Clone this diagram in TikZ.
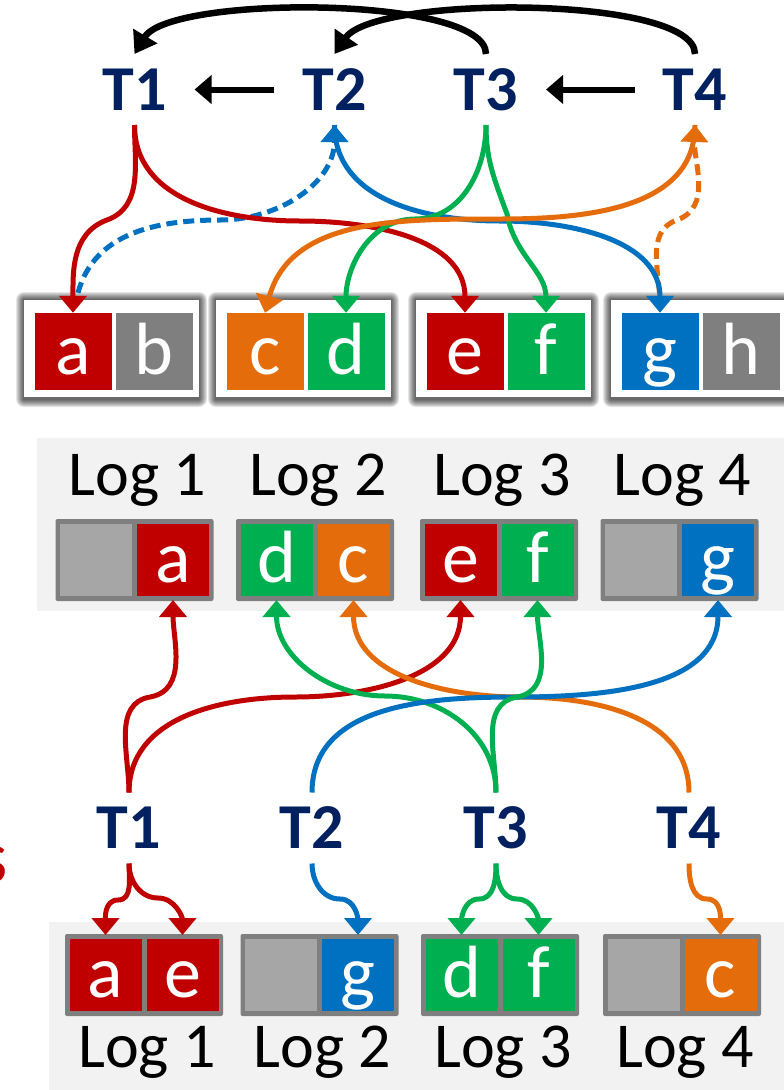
\documentclass[tikz,border=0pt]{standalone}
\usepackage{fontspec}
\setmainfont{Carlito}
\usetikzlibrary{arrows.meta}
\definecolor{navy}{HTML}{002060}
\definecolor{cred}{HTML}{C00000}
\definecolor{cgreen}{HTML}{00B050}
\definecolor{corange}{HTML}{E46C0A}
\definecolor{cblue}{HTML}{0070C0}
\definecolor{cgray}{HTML}{7F7F7F}
\definecolor{cempty}{HTML}{A6A6A6}
\definecolor{panel}{HTML}{F2F2F2}

\tikzset{
  txn/.style={text=navy,font=\fontsize{64}{64}\selectfont\bfseries,inner sep=0pt,
    text height=41pt,text depth=0pt,outer xsep=28pt,outer ysep=15pt},
  cell/.style={minimum size=77pt,inner sep=0pt,text=white,
    font=\fontsize{74}{74}\selectfont,text height=50pt,text depth=5pt},
  lcell/.style={cell,minimum size=72pt,outer ysep=4pt},
  loglab/.style={font=\fontsize{64}{64}\selectfont,anchor=base,inner sep=0pt},
  link/.style={line width=5pt,-{Triangle[length=17pt,width=27pt]}},
  dep/.style={line width=6.5pt,-{Triangle[length=21pt,width=27pt]}},
  wdash/.style={dash pattern=on 11pt off 6pt},
}

\begin{document}
\begin{tikzpicture}[x=1pt,y=1pt]
\useasboundingbox (0,-1090) rectangle (784,0);
\fill[white] (0,-1090) rectangle (784,0);

% transactions, top
\node[txn] (tt1) at (134.5,-89.5) {T1};
\node[txn] (tt2) at (334.5,-89.5) {T2};
\node[txn] (tt3) at (486,-89.5) {T3};
\node[txn] (tt4) at (695,-89.5) {T4};

\draw[dep,line width=6pt,-{Triangle[length=17pt,width=28pt]}] (tt2.west) -- (tt1.east);
\draw[dep,line width=6pt,-{Triangle[length=17pt,width=28pt]}] (tt4.west) -- (tt3.east);
\draw[dep] (tt3.north) .. controls (486,5) and (170,5) .. (tt1.north);
\draw[dep] (tt4.north) .. controls (695,5) and (375,5) .. (tt2.north);

% records with shadow
\foreach \L in {24,216,416,611}{
  \foreach \e in {1,...,8}
    \fill[black,opacity=0.1,rounded corners=\e pt] (\L-\e,-300+\e) rectangle (\L+175+\e,-399-\e);
  \fill[white] (\L,-300) rectangle (\L+175,-397);
}
\foreach \L/\cl/\tl/\cr/\tr in {24/cred/a/cgray/b, 216/corange/c/cgreen/d,
                                416/cred/e/cgreen/f, 611/cblue/g/cgray/h}{
  \node[cell,fill=\cl] (\tl) at (\L+49,-351.5) {\tl};
  \node[cell,fill=\cr] (\tr) at (\L+130,-351.5) {\tr};
}

\draw[link,cblue,wdash] ([xshift=5pt,yshift=20pt]a.north) to[out=75,in=180] (220,-220)
  to[out=0,in=-90] (tt2.south);
\draw[link,corange,wdash] ([yshift=3pt]g.north) to[out=88,in=200] (677,-220)
  to[out=20,in=-92] (tt4.south);
\draw[link,cred] (tt1.south) to[out=-90,in=20] (107,-220) to[out=200,in=90] (a.north);
\draw[link,cred] (tt1.south) to[out=-90,in=180] (300,-221) to[out=0,in=90] (e.north);
\draw[link,cblue] (tt2.south) to[out=-90,in=180] (500,-221) to[out=0,in=90] (g.north);
\draw[link,cgreen] (tt3.south) to[out=-90,in=0] (415,-219) to[out=180,in=90] (d.north);
\draw[link,cgreen] (tt3.south) to[out=-90,in=110] (507,-214) to[out=-80,in=90] (f.north);
\draw[link,corange] (tt4.south) to[out=-90,in=0] (500,-219) to[out=180,in=75] (c.north);

% logs, upper row
\fill[panel] (37,-438) rectangle (784,-611);
\foreach \x/\cl/\tl/\cr/\tr/\n in {134.5/cempty//cred/a/1, 315/cgreen/d/corange/c/2,
                                   499/cred/e/cgreen/f/3, 679.5/cempty//cblue/g/4}{
  \fill[cgray,rounded corners=2pt] (\x-79,-519) rectangle (\x+79,-601);
  \node[lcell,fill=\cl] (m\n-l) at (\x-38.5,-560) {\tl};
  \node[lcell,fill=\cr] (m\n-r) at (\x+38.5,-560) {\tr};
  \node[loglab] (mlog\n) at (\x+3,-495) {Log \n};
}

% transactions, bottom
\node[txn] (tb1) at (129,-828) {T1};
\node[txn] (tb2) at (312,-828) {T2};
\node[txn] (tb3) at (496,-828) {T3};
\node[txn] (tb4) at (689,-828) {T4};
\node[text=cred,font=\fontsize{75}{75}\selectfont,anchor=base east,inner sep=0pt] (frag) at (8,-882) {s};

\draw[link,cred] (tb1.north) to[out=90,in=190] (150,-697) to[out=10,in=-90] (m1-r.south);
\draw[link,cred] (tb1.north) to[out=90,in=180] (295,-697) to[out=0,in=-90] (m3-l.south);
\draw[link,cgreen] (tb3.north) to[out=90,in=0] (385,-696) to[out=180,in=-90] (m2-l.south);
\draw[link,corange] (tb4.north) to[out=90,in=0] (520,-697) to[out=180,in=-90] (m2-r.south);
\draw[link,cblue] (tb2.north) to[out=90,in=180] (515,-697) to[out=0,in=-90] (m4-r.south);
\draw[link,cgreen] (tb3.north) to[out=90,in=190] (517,-697) to[out=10,in=-90] (m3-r.south);

% logs, lower row
\fill[panel] (49,-922) rectangle (784,-1090);
\foreach \x/\cl/\tl/\cr/\tr/\n in {144/cred/a/cred/e/1, 319.5/cempty//cblue/g/2,
                                   500/cgreen/d/cgreen/f/3, 682/cempty//corange/c/4}{
  \fill[cgray,rounded corners=2pt] (\x-79,-934) rectangle (\x+79,-1016);
  \node[lcell,fill=\cl] (b\n-l) at (\x-38.5,-975) {\tl};
  \node[lcell,fill=\cr] (b\n-r) at (\x+38.5,-975) {\tr};
  \node[loglab] (blog\n) at (\x+3,-1067) {Log \n};
}

\draw[link,cred] (tb1.south) to[out=-90,in=0] (118,-900) to[out=180,in=90] (b1-l.north);
\draw[link,cred] (tb1.south) to[out=-90,in=180] (158,-898) to[out=0,in=90] (b1-r.north);
\draw[link,cblue] (tb2.south) to[out=-90,in=180] (340,-899) to[out=0,in=90] (b2-r.north);
\draw[link,cgreen] (tb3.south) to[out=-90,in=0] (479,-899) to[out=180,in=90] (b3-l.north);
\draw[link,cgreen] (tb3.south) to[out=-90,in=180] (517,-899) to[out=0,in=90] (b3-r.north);
\draw[link,corange] (tb4.south) to[out=-90,in=180] (707,-899) to[out=0,in=90] (b4-r.north);
\end{tikzpicture}
\end{document}
